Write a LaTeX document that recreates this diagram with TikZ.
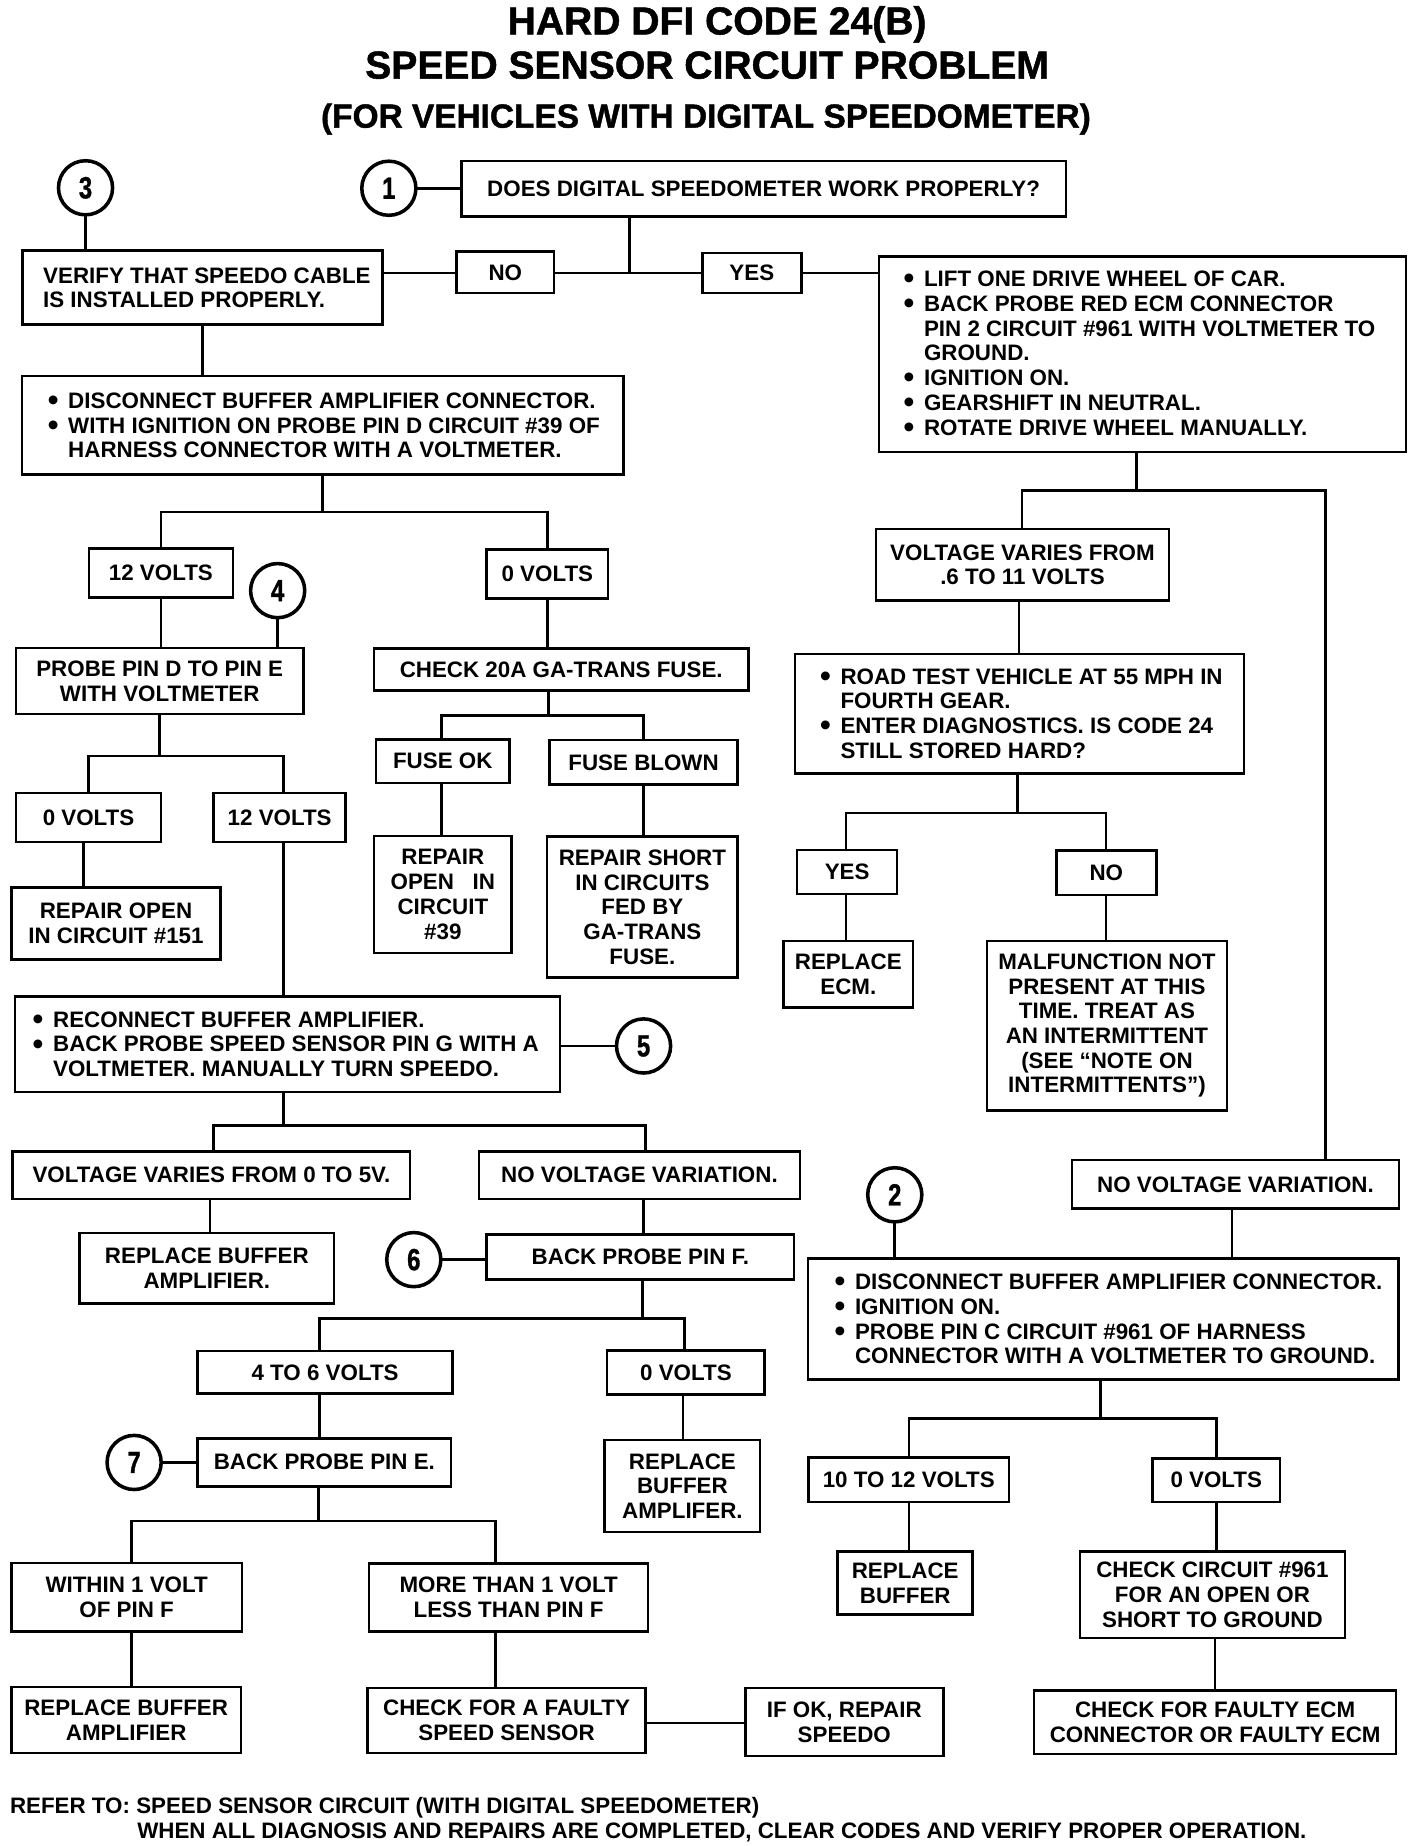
\documentclass[tikz,border=0pt]{standalone}
\usepackage{fontspec}
\setmainfont{Liberation Sans}
\newfontfamily\heavyfont{Liberation Sans Bold}[FakeBold=1.2]
\usepackage{graphicx}
\usetikzlibrary{calc}
\newcommand\bodyfont{\bfseries\fontsize{9.5}{10.5}\selectfont}
\newcommand\ttlA{\heavyfont\fontsize{16.6}{18}\selectfont}
\newcommand\ttlB{\heavyfont\fontsize{14.2}{16}\selectfont}
\newcommand\dg[1]{\scalebox{0.78}[1]{\heavyfont\fontsize{13}{13}\selectfont #1}}
\newcommand\blt{\makebox[8.7pt][l]{\raisebox{-0.9pt}{\fontsize{13}{10}\selectfont\textbullet}}}
\newcommand\nob{\hspace*{8.7pt}}
\tikzset{
 box/.style={draw, line width=1.1pt, inner sep=0pt, outer sep=0pt, align=center, font=\bodyfont},
 txt/.style={inner sep=0pt, outer sep=0pt, align=left, font=\bodyfont},
 circ/.style={draw, circle, line width=1.5pt, minimum size=23pt, inner sep=0pt, outer sep=0pt},
 ln/.style={line width=1.1pt},
 ttl/.style={inner sep=0pt, anchor=base},
}
\newcommand\bx[6]{%
 \pgfmathsetmacro\bxw{(#4-#2)*0.5}%
 \pgfmathsetmacro\bxh{(#5-#3)*0.5}%
 \node[box,minimum width=\bxw pt,minimum height=\bxh pt] (#1) at ({(#2+#4)/2},{(#3+#5)/2}) {#6};}
\newcommand\lbx[7]{%
 \bx{#1}{#2}{#3}{#4}{#5}{}%
 \node[txt,anchor=west] (#1t) at ([xshift=#6*0.5pt]#1.west) {#7};}
\begin{document}
\begin{tikzpicture}[x=0.5pt,y=-0.5pt]
\fill[white] (0,0) rectangle (1210,1569);
\useasboundingbox (0,0) rectangle (1210,1569);
% titles
\node[ttl] (t1) at (609.5,29.3) {\ttlA HARD DFI CODE 24(B)};
\node[ttl] (t2) at (601,66.8) {\ttlA SPEED SENSOR CIRCUIT PROBLEM};
\node[ttl] (t3) at (600,108.5) {\ttlB (FOR VEHICLES WITH DIGITAL SPEEDOMETER)};
% circles
\node[circ] (c1) at (330.5,160) {\dg{1}};
\node[circ] (c3) at (72.7,159.6) {\dg{3}};
\node[circ] (c4) at (236,502) {\dg{4}};
\node[circ] (c5) at (547,889) {\dg{5}};
\node[circ] (c6) at (351.7,1070.6) {\dg{6}};
\node[circ] (c7) at (114,1243) {\dg{7}};
\node[circ] (c2) at (760.5,1015.5) {\dg{2}};
% boxes
\bx{q1}{392}{137}{906}{184}{DOES DIGITAL SPEEDOMETER WORK PROPERLY?}
\bx{no1}{388}{214}{471}{249}{NO}
\bx{yes1}{597}{215}{681}{249}{YES}
\lbx{verify}{19}{213}{325}{276}{17.7}{VERIFY THAT SPEEDO CABLE\\IS INSTALLED PROPERLY.}
\lbx{right1}{747}{218}{1195}{384}{21}{\blt LIFT ONE DRIVE WHEEL OF CAR.\\\blt BACK PROBE RED ECM CONNECTOR\\\nob PIN 2 CIRCUIT \#961 WITH VOLTMETER TO\\\nob GROUND.\\\blt IGNITION ON.\\\blt GEARSHIFT IN NEUTRAL.\\\blt ROTATE DRIVE WHEEL MANUALLY.}
\lbx{disc1}{18.6}{319.5}{530}{403.5}{22}{\blt DISCONNECT BUFFER AMPLIFIER CONNECTOR.\\\blt WITH IGNITION ON PROBE PIN D CIRCUIT \#39 OF\\\nob HARNESS CONNECTOR WITH A VOLTMETER.}
\bx{v12a}{75.5}{466}{198}{508}{12 VOLTS}
\bx{v0a}{413.6}{467}{516.8}{508.5}{0 VOLTS}
\bx{probe}{13.5}{550.6}{258}{607}{PROBE PIN D TO PIN E\\WITH VOLTMETER}
\bx{check20}{318}{551}{636}{587}{CHECK 20A GA-TRANS FUSE.}
\bx{fuseok}{319.6}{628.4}{433}{665.5}{FUSE OK}
\bx{fuseblown}{467}{629}{627}{667}{FUSE BLOWN}
\bx{rep39}{318}{710.4}{434.8}{810}{REPAIR\\OPEN\ \ \ IN\\CIRCUIT\\\#39}
\bx{repshort}{465}{711}{627}{831}{REPAIR SHORT\\IN CIRCUITS\\FED BY\\GA-TRANS\\FUSE.}
\bx{v0b}{13.5}{674}{137}{715.5}{0 VOLTS}
\bx{v12b}{181.7}{674}{293.7}{715.5}{12 VOLTS}
\bx{rep151}{9.7}{754.5}{187.5}{815.3}{REPAIR OPEN\\IN CIRCUIT \#151}
\lbx{reconn}{12.8}{847}{476}{928}{15}{\blt RECONNECT BUFFER AMPLIFIER.\\\blt BACK PROBE SPEED SENSOR PIN G WITH A\\\nob VOLTMETER. MANUALLY TURN SPEEDO.}
\bx{volvar}{10.8}{978.6}{348.6}{1019}{VOLTAGE VARIES FROM 0 TO 5V.}
\bx{novar1}{407}{978.6}{680}{1019}{NO VOLTAGE VARIATION.}
\bx{repbuf1}{67.6}{1048}{284}{1108}{REPLACE BUFFER\\AMPLIFIER.}
\bx{pinF}{413.6}{1049}{675}{1087.6}{BACK PROBE PIN F.}
\bx{v46}{168}{1148.3}{384.6}{1184.5}{4 TO 6 VOLTS}
\bx{v0c}{516}{1148}{650}{1185}{0 VOLTS}
\bx{pinE}{168}{1222.4}{383.4}{1263.2}{BACK PROBE PIN E.}
\bx{repbuf2}{514}{1224}{646}{1302}{REPLACE\\BUFFER\\AMPLIFER.}
\bx{within}{9.7}{1328.3}{205.6}{1386.8}{WITHIN 1 VOLT\\OF PIN F}
\bx{more}{313.8}{1329}{550.8}{1386.8}{MORE THAN 1 VOLT\\LESS THAN PIN F}
\bx{repbuf3}{9.7}{1433.8}{204.8}{1489.8}{REPLACE BUFFER\\AMPLIFIER}
\bx{faulty}{312.3}{1434.8}{548.8}{1489.8}{CHECK FOR A FAULTY\\SPEED SENSOR}
\bx{ifok}{633.5}{1434.8}{801.7}{1492.6}{IF OK, REPAIR\\SPEEDO}
\bx{var611}{744.4}{449.5}{993.7}{510.6}{VOLTAGE VARIES FROM\\.6 TO 11 VOLTS}
\lbx{road}{675.6}{555.8}{1057.4}{657.3}{21.4}{\blt ROAD TEST VEHICLE AT 55 MPH IN\\\nob FOURTH GEAR.\\\blt ENTER DIAGNOSTICS. IS CODE 24\\\nob STILL STORED HARD?}
\bx{yes2}{677.5}{722.6}{762.5}{759.7}{YES}
\bx{no2}{897.8}{723}{982.8}{760.8}{NO}
\bx{repecm}{666}{799.7}{776}{856.3}{REPLACE\\ECM.}
\bx{malf}{839}{799.7}{1042.7}{943.9}{MALFUNCTION NOT\\PRESENT AT THIS\\TIME. TREAT AS\\AN INTERMITTENT\\(SEE “NOTE ON\\INTERMITTENTS”)}
\bx{novar2}{911.3}{986}{1188.9}{1027.3}{NO VOLTAGE VARIATION.}
\lbx{disc2}{686.9}{1069.6}{1188.6}{1172.5}{22.4}{\blt DISCONNECT BUFFER AMPLIFIER CONNECTOR.\\\blt IGNITION ON.\\\blt PROBE PIN C CIRCUIT \#961 OF HARNESS\\\nob CONNECTOR WITH A VOLTMETER TO GROUND.}
\bx{v1012}{687}{1238.6}{857.7}{1276.6}{10 TO 12 VOLTS}
\bx{v0d}{979.5}{1239.4}{1088}{1276.6}{0 VOLTS}
\bx{repbuf4}{712}{1318.9}{826.8}{1372.3}{REPLACE\\BUFFER}
\bx{chk961}{918}{1318.9}{1143}{1392.2}{CHECK CIRCUIT \#961\\FOR AN OPEN OR\\SHORT TO GROUND}
\bx{faultyecm}{879}{1436.6}{1186.6}{1490.8}{CHECK FOR FAULTY ECM\\CONNECTOR OR FAULTY ECM}
% footer
\node[txt,anchor=base west] (f1) at (8.5,1541) {REFER TO: SPEED SENSOR CIRCUIT (WITH DIGITAL SPEEDOMETER)};
\node[txt,anchor=base west] (f2) at (116.7,1562.8) {WHEN ALL DIAGNOSIS AND REPAIRS ARE COMPLETED, CLEAR CODES AND VERIFY PROPER OPERATION.};
% connectors
\draw[ln] (c1.east) -- (c1.east -| q1.west);
\draw[ln] (c3.south) -- (c3.south |- verify.north);
\coordinate (jq) at (535,232);
\draw[ln] (jq |- q1.south) -- (jq);
\draw[ln] (no1.east |- jq) -- (yes1.west |- jq);
\draw[ln] (no1.west |- jq) -- (verify.east |- jq);
\draw[ln] (yes1.east |- jq) -- (right1.west |- jq);
\draw[ln] (verify.south) -- (verify.south |- disc1.north);
\coordinate (b1) at (274,435);
\draw[ln] (b1 |- disc1.south) -- (b1);
\draw[ln] (v12a.north) |- (b1) -| (v0a.north);
\draw[ln] (c4.south) -- (c4.south |- probe.north);
\draw[ln] (v12a.south) -- (v12a.south |- probe.north);
\draw[ln] (v0a.south) -- (v0a.south |- check20.north);
\coordinate (b9) at (466,608); \coordinate (d25) at (375,608); \coordinate (d26) at (547,608);
\draw[ln] (b9 |- check20.south) -- (b9);
\draw[ln] (d25 |- fuseok.north) -- (d25) -- (d26) -- (d26 |- fuseblown.north);
\draw[ln] (d25 |- fuseok.south) -- (d25 |- rep39.north);
\draw[ln] (d26 |- fuseblown.south) -- (d26 |- repshort.north);
\coordinate (b2) at (135.5,642.7); \coordinate (d4) at (241,642.7);
\draw[ln] (b2 |- probe.south) -- (b2);
\draw[ln] (v0b.north) |- (b2) -- (d4) -- (d4 |- v12b.north);
\coordinate (d5) at (71,734);
\draw[ln] (d5 |- v0b.south) -- (d5 |- rep151.north);
\draw[ln] (d4 |- v12b.south) -- (d4 |- reconn.north);
\draw[ln] (c5.west) -- (c5.west -| reconn.east);
\coordinate (b3) at (241,956.7); \coordinate (d6) at (181.7,956.7); \coordinate (d7) at (548.5,956.7);
\draw[ln] (b3 |- reconn.south) -- (b3);
\draw[ln] (d6 |- volvar.north) -- (d6) -- (d7) -- (d7 |- novar1.north);
\coordinate (d8) at (178.6,1030);
\draw[ln] (d8 |- volvar.south) -- (d8 |- repbuf1.north);
\coordinate (d9) at (547,1030);
\draw[ln] (d9 |- novar1.south) -- (d9 |- pinF.north);
\draw[ln] (c6.east) -- (c6.east -| pinF.west);
\coordinate (b4) at (546,1120.5); \coordinate (d10) at (271.7,1120.5); \coordinate (d11) at (581.7,1120.5);
\draw[ln] (b4 |- pinF.south) -- (b4);
\draw[ln] (d10 |- v46.north) -- (d10) -- (d11) -- (d11 |- v0c.north);
\draw[ln] (d10 |- v46.south) -- (d10 |- pinE.north);
\draw[ln] (c7.east) -- (c7.east -| pinE.west);
\coordinate (d12) at (580.5,1200);
\draw[ln] (d12 |- v0c.south) -- (d12 |- repbuf2.north);
\coordinate (b5) at (270.6,1292.8); \coordinate (d13) at (112,1292.8); \coordinate (d14) at (421,1292.8);
\draw[ln] (b5 |- pinE.south) -- (b5);
\draw[ln] (d13 |- within.north) -- (d13) -- (d14) -- (d14 |- more.north);
\draw[ln] (d13 |- within.south) -- (d13 |- repbuf3.north);
\draw[ln] (d14 |- more.south) -- (d14 |- faulty.north);
\coordinate (d15) at (590,1464.5);
\draw[ln] (d15 -| faulty.east) -- (d15 -| ifok.west);
\coordinate (b6) at (966,417); \coordinate (d16) at (868.8,417); \coordinate (d17) at (1126.5,417);
\draw[ln] (b6 |- right1.south) -- (b6);
\draw[ln] (d16 |- var611.north) -- (d16) -- (d17) -- (d17 |- novar2.north);
\coordinate (d18) at (866,530);
\draw[ln] (d18 |- var611.south) -- (d18 |- road.north);
\coordinate (b7) at (865,691); \coordinate (d19) at (719,691); \coordinate (d20) at (940,691);
\draw[ln] (b7 |- road.south) -- (b7);
\draw[ln] (d19 |- yes2.north) -- (d19) -- (d20) -- (d20 |- no2.north);
\draw[ln] (d19 |- yes2.south) -- (d19 |- repecm.north);
\draw[ln] (d20 |- no2.south) -- (d20 |- malf.north);
\draw[ln] (c2.south) -- (c2.south |- disc2.north);
\coordinate (d21) at (1047,1050);
\draw[ln] (d21 |- novar2.south) -- (d21 |- disc2.north);
\coordinate (b8) at (935.4,1205.4); \coordinate (d22) at (772.7,1205.4); \coordinate (d23) at (1034,1205.4);
\draw[ln] (b8 |- disc2.south) -- (b8);
\draw[ln] (d22 |- v1012.north) -- (d22) -- (d23) -- (d23 |- v0d.north);
\draw[ln] (d22 |- v1012.south) -- (d22 |- repbuf4.north);
\draw[ln] (d23 |- v0d.south) -- (d23 |- chk961.north);
\coordinate (d24) at (1032.8,1410);
\draw[ln] (d24 |- chk961.south) -- (d24 |- faultyecm.north);
\end{tikzpicture}
\end{document}
